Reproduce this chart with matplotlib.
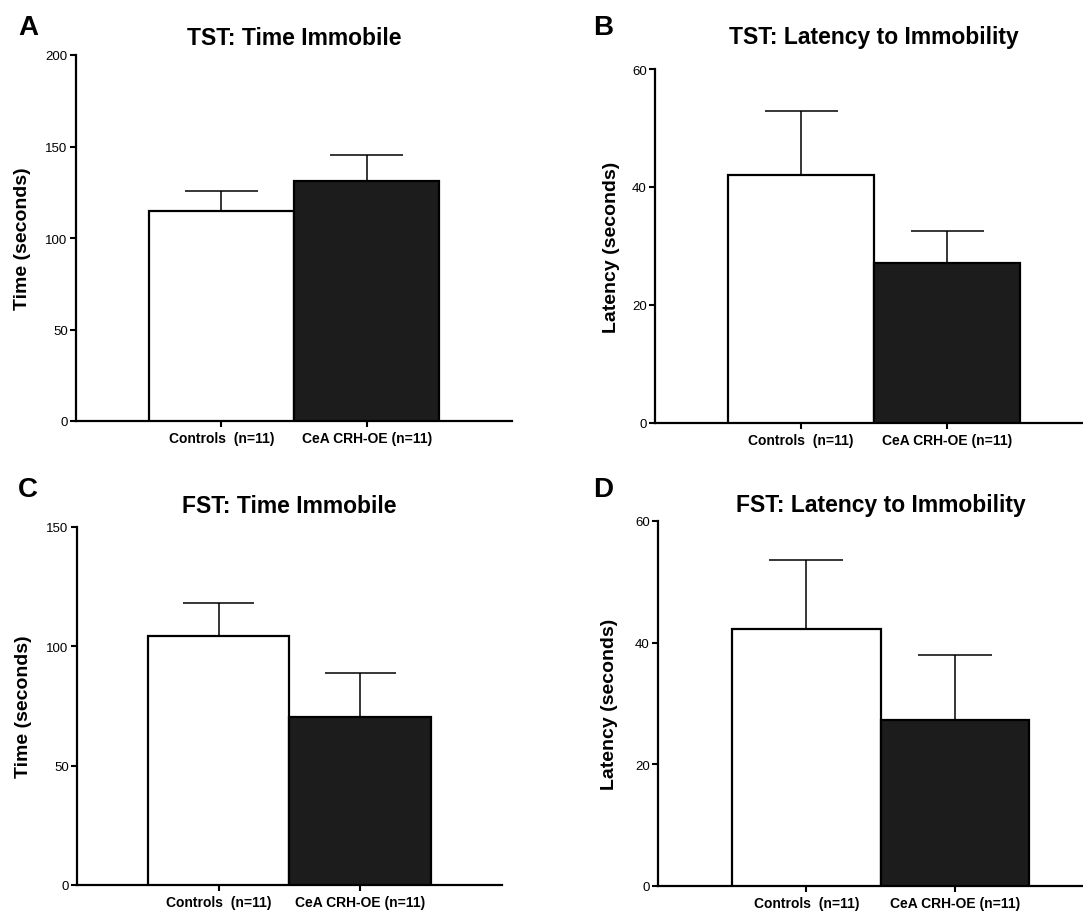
import matplotlib.pyplot as plt
import numpy as np

plt.rcParams['font.family'] = ['Liberation Sans', 'DejaVu Sans']

# group means and SEM, two groups per test
groups = ['Controls  (n=11)', 'CeA CRH-OE (n=11)']
bar_colors = ['white', '#1c1c1c']

tst_time = [114.8, 131.1]
tst_time_sem = [10.9, 14.3]
tst_latency = [42.1, 27.1]
tst_latency_sem = [10.8, 5.4]
fst_time = [104.3, 70.5]
fst_time_sem = [14.0, 18.4]
fst_latency = [42.2, 27.3]
fst_latency_sem = [11.4, 10.6]

W, H = 1083, 912
fig = plt.figure(figsize=(W / 100, H / 100), dpi=100)


def px_axes(left, top, width, height):
    return fig.add_axes([left / W, 1 - (top + height) / H, width / W, height / H])


panels = [
    # letter, letter pos, axes box (px), title, title pad, ylabel, ymax, ystep, values, sem, ylabel x
    ('A', (18, 35), (76, 56, 436, 366), 'TST: Time Immobile', 8,
     'Time (seconds)', 200, 50, tst_time, tst_time_sem, -0.103),
    ('B', (593, 35), (655, 70, 438, 354), 'TST: Latency to Immobility', 19,
     'Latency (seconds)', 60, 20, tst_latency, tst_latency_sem, -0.080),
    ('C', (18, 497), (77, 528, 425, 358), 'FST: Time Immobile', 11,
     'Time (seconds)', 150, 50, fst_time, fst_time_sem, -0.106),
    ('D', (593, 497), (658, 522, 445, 365), 'FST: Latency to Immobility', 7,
     'Latency (seconds)', 60, 20, fst_latency, fst_latency_sem, -0.090),
]

x = np.array([1, 2])

for letter, lpos, box, title, tpad, ylabel, ymax, ystep, vals, sem, ylx in panels:
    ax = px_axes(*box)
    ax.bar(x, vals, width=1.0, color=bar_colors, edgecolor='black',
           linewidth=1.6, zorder=3)
    # one-sided error bars (upper only)
    tops = np.array(vals) + np.array(sem)
    ax.vlines(x, vals, tops, color='black', linewidth=1.1, zorder=2)
    ax.hlines(tops, x - 0.25, x + 0.25, color='black', linewidth=1.1, zorder=2)

    ax.set_xlim(0, 3)
    ax.set_ylim(0, ymax)
    ax.set_yticks(np.arange(0, ymax + 1, ystep))
    ax.set_xticks(x)
    ax.set_xticklabels(groups, fontsize=10, fontweight='bold')
    ax.tick_params(axis='y', labelsize=9.5, length=4, width=1.5, pad=2)
    ax.tick_params(axis='x', length=4, width=1.5, pad=3)
    for s in ['top', 'right']:
        ax.spines[s].set_visible(False)
    for s in ['left', 'bottom']:
        ax.spines[s].set_linewidth(1.6)

    ax.set_title(title, fontsize=16.5, fontweight='bold', pad=tpad)
    ax.set_ylabel(ylabel, fontsize=14, fontweight='bold')
    ax.yaxis.set_label_coords(ylx, 0.5)

    fig.text(lpos[0] / W, 1 - lpos[1] / H, letter, fontsize=20,
             fontweight='bold', va='baseline', ha='left')

fig.savefig('out.png', dpi=100)
